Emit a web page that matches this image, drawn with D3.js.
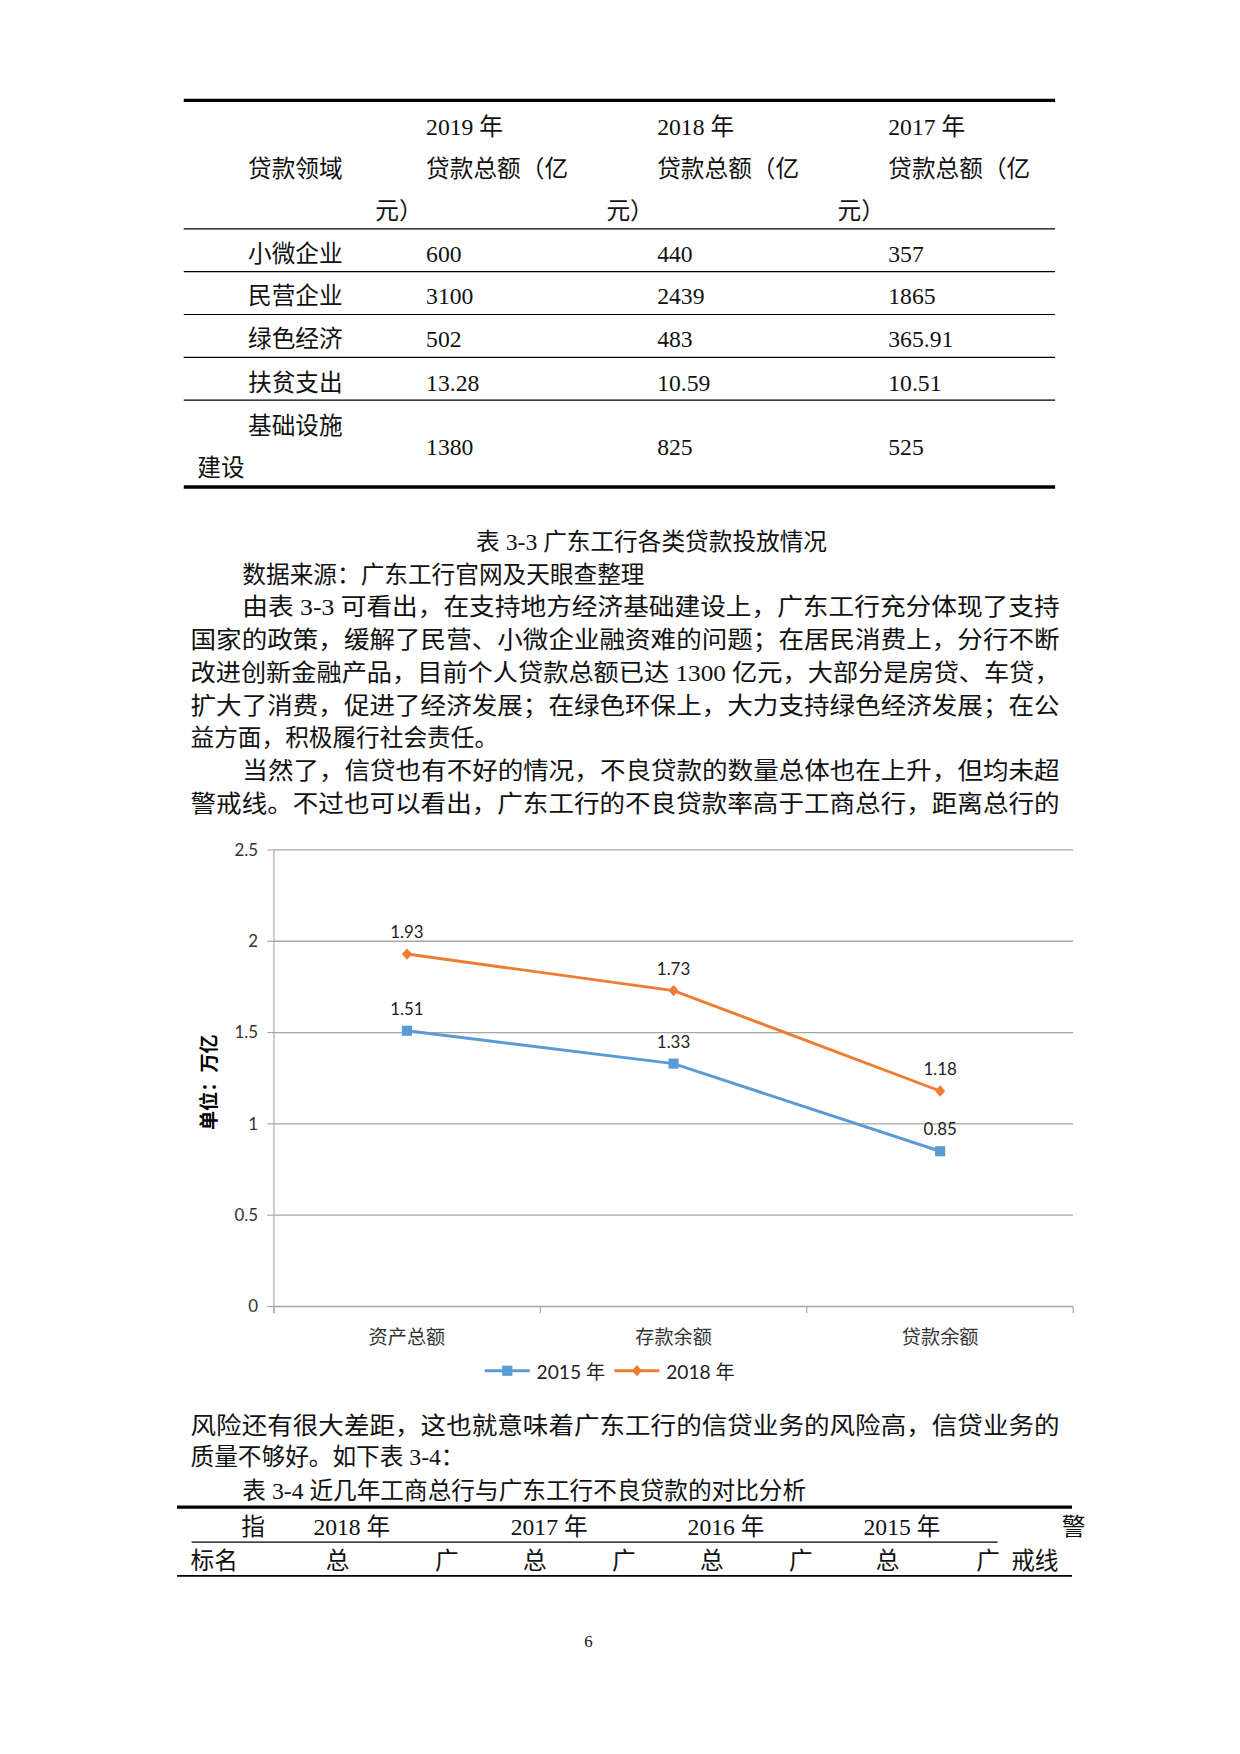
<!DOCTYPE html><html><head><meta charset="utf-8"><script src="https://cdn.jsdelivr.net/npm/d3@7"></script>
<style>body{margin:0;background:#fff}</style></head><body><svg id="p" width="1240" height="1754" viewBox="0 0 1100 1556"></svg>
<script>
const tblCols=["贷款领域","2019 年","2018 年","2017 年"];
const tblRows=[["小微企业","600","440","357"],["民营企业","3100","2439","1865"],["绿色经济","502","483","365.91"],["扶贫支出","13.28","10.59","10.51"],["基础设施建设","1380","825","525"]];
const categories=["资产总额","存款余额","贷款余额"];
const s2015=[1.51,1.33,0.85];
const s2018=[1.93,1.73,1.18];
const seriesNames=["2015 年","2018 年"];
const yTicks=[0,0.5,1,1.5,2,2.5];
const paraLines=[
["数据来源：广东工行官网及天眼查整理",215,0],
["由表 3-3 可看出，在支持地方经济基础建设上，广东工行充分体现了支持",215,1],
["国家的政策，缓解了民营、小微企业融资难的问题；在居民消费上，分行不断",169,1],
["改进创新金融产品，目前个人贷款总额已达 1300 亿元，大部分是房贷、车贷，",169,1],
["扩大了消费，促进了经济发展；在绿色环保上，大力支持绿色经济发展；在公",169,1],
["益方面，积极履行社会责任。",169,0],
["当然了，信贷也有不好的情况，不良贷款的数量总体也在上升，但均未超",215,1],
["警戒线。不过也可以看出，广东工行的不良贷款率高于工商总行，距离总行的",169,1]];
const afterLines=[["风险还有很大差距，这也就意味着广东工行的信贷业务的风险高，信贷业务的",169,1],["质量不够好。如下表 3-4：",169,0],["表 3-4 近几年工商总行与广东工行不良贷款的对比分析",215,0]];

const svg=d3.select("#p");
const F='"Liberation Serif","Noto Sans CJK SC",serif';
function t(x,y,s,o={}){return svg.append("text").attr("x",x).attr("y",y).text(s).attr("font-family",o.f||F).attr("font-size",o.fs||21).attr("fill",o.c||"#111").attr("text-anchor",o.a||"start").attr("font-weight",o.w||"normal");}
function line(x1,y1,x2,y2,w,c){svg.append("line").attr("x1",x1).attr("y1",y1).attr("x2",x2).attr("y2",y2).attr("stroke",c||"#000").attr("stroke-width",w);}
// top table
line(163,89,936,89,3);line(163,203,936,203,1);line(163,432,936,432,3);
[241,279,317,355].forEach(y=>line(163,y,936,y,1));
const cx=[378,583,788];
t(220,157,tblCols[0]);
cx.forEach((x,i)=>{t(x,120,tblCols[i+1]);t(x,157,"贷款总额（亿");t(x-45,194,"元）");});
tblRows.forEach((r,i)=>{
  const y=i<4?[232,270,308,347][i]:404;
  if(i<4)t(220,y,r[0]);else{t(220,385,"基础设施");t(175,422,"建设");}
  r.slice(1).forEach((v,j)=>t(cx[j],y,v));
});
t(578,488,"表 3-3 广东工行各类贷款投放情况",{a:"middle"});
const ys=[517,546,575,604,633,662,691,720];
paraLines.forEach((l,i)=>{const e=t(l[1],ys[i],l[0]);if(l[2])e.attr("textLength",940-l[1]).attr("lengthAdjust","spacingAndGlyphs");});
// chart
const L='Lato,"Noto Sans CJK SC",sans-serif';
const x=d3.scalePoint().domain(categories).range([361,834]);
const band=d3.scaleBand().domain(categories).range([243,952]);
const y=d3.scaleLinear().domain([0,2.5]).range([1159,754]);
yTicks.forEach(v=>{line(243,y(v),952,y(v),1.2,"#a6a6a6");line(237,y(v),243,y(v),1,"#a6a6a6");t(229,y(v)+5,String(v),{f:L,fs:15,a:"end",c:"#333"});});
line(243,754,243,1165,1,"#a6a6a6");
[0,1,2,3].forEach(i=>{const xx=243+band.bandwidth()*i;line(xx,1159,xx,1165,1,"#a6a6a6");});
categories.forEach(c=>t(x(c),1192,c,{f:L,fs:17,a:"middle",c:"#333"}));
svg.append("text").attr("transform","translate(192,960) rotate(-90)").attr("text-anchor","middle").attr("font-family",L).attr("font-size",17).attr("font-weight","bold").text("单位：万亿");
const colors=["#5b9bd5","#ed7d31"];
[s2015,s2018].forEach((s,k)=>{
  svg.append("path").datum(s).attr("fill","none").attr("stroke",colors[k]).attr("stroke-width",2.6)
   .attr("d",d3.line().x((d,i)=>x(categories[i])).y(d=>y(d)));
  s.forEach((d,i)=>{
    const px=x(categories[i]),py=y(d);
    if(k==0)svg.append("rect").attr("x",px-4.5).attr("y",py-4.5).attr("width",9).attr("height",9).attr("fill",colors[k]);
    else svg.append("path").attr("d",`M${px},${py-5}L${px+4.5},${py}L${px},${py+5}L${px-4.5},${py}Z`).attr("fill",colors[k]);
    t(px,py-14,d.toFixed(2),{f:L,fs:15,a:"middle",c:"#222"});
  });
});
// legend
line(430,1216,470,1216,2.6,colors[0]);svg.append("rect").attr("x",445.5).attr("y",1211.5).attr("width",9).attr("height",9).attr("fill",colors[0]);
t(476,1223,seriesNames[0],{f:L,fs:17,c:"#222"});
line(545,1216,585,1216,2.6,colors[1]);svg.append("path").attr("d","M565,1211L569.5,1216L565,1221L560.5,1216Z").attr("fill",colors[1]);
t(591,1223,seriesNames[1],{f:L,fs:17,c:"#222"});
// after text
[1272,1300,1330].forEach((yy,i)=>{const l=afterLines[i];const e=t(l[1],yy,l[0]);if(l[2])e.attr("textLength",940-l[1]).attr("lengthAdjust","spacingAndGlyphs");});
// bottom table
line(157,1337,951,1337,3);line(170,1368,885,1368,1);line(157,1398,951,1398,1.5);
t(214,1362,"指");["2018 年","2017 年","2016 年","2015 年"].forEach((s,i)=>t([278,453,610,766][i],1362,s));t(942,1362,"警");
t(169,1392,"标名");
[289,386,464,543,621,700,777,866].forEach((xx,i)=>t(xx,1392,i%2?"广":"总"));t(897,1392,"戒线");
t(522,1461,"6",{fs:15,a:"middle"});
</script></body></html>
